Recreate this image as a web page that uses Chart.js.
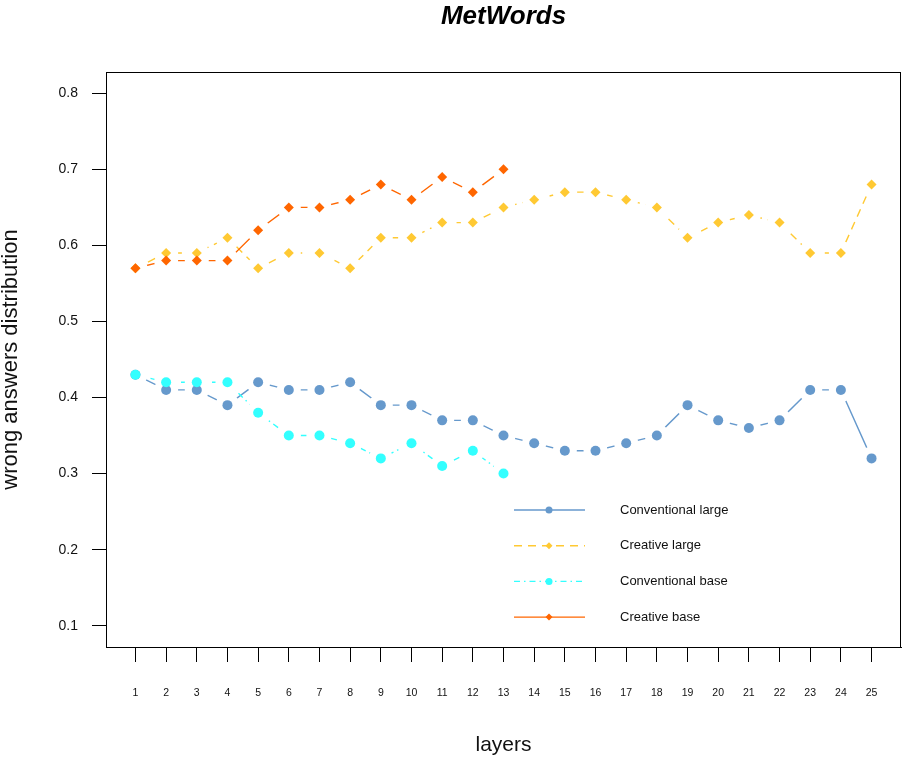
<!DOCTYPE html>
<html>
<head>
<meta charset="utf-8">
<script src="https://cdn.jsdelivr.net/npm/chart.js@4"></script>
<style>
  html, body { margin: 0; padding: 0; background: #fff; }
</style>
</head>
<body>
<canvas id="chart" width="902" height="758"></canvas>
<script>
// values
const layers = [1, 2, 3, 4, 5, 6, 7, 8, 9, 10, 11, 12, 13, 14, 15, 16, 17, 18, 19, 20, 21, 22, 23, 24, 25];
const conventionalLarge = [0.43, 0.41, 0.41, 0.39, 0.42, 0.41, 0.41, 0.42, 0.39, 0.39, 0.37, 0.37, 0.35,
  0.34, 0.33, 0.33, 0.34, 0.35, 0.39, 0.37, 0.36, 0.37, 0.41, 0.41, 0.32];
const creativeLarge = [0.57, 0.59, 0.59, 0.61, 0.57, 0.59, 0.59, 0.57, 0.61, 0.61, 0.63, 0.63, 0.65,
  0.66, 0.67, 0.67, 0.66, 0.65, 0.61, 0.63, 0.64, 0.63, 0.59, 0.59, 0.68];
const conventionalBase = [0.43, 0.42, 0.42, 0.42, 0.38, 0.35, 0.35, 0.34, 0.32, 0.34, 0.31, 0.33, 0.30];
const creativeBase = [0.57, 0.58, 0.58, 0.58, 0.62, 0.65, 0.65, 0.66, 0.68, 0.66, 0.69, 0.67, 0.70];
const yTicks = [0.1, 0.2, 0.3, 0.4, 0.5, 0.6, 0.7, 0.8];

const FONT = '"Liberation Sans", Arial, Helvetica, sans-serif';

const series = [
  {label: 'Conventional large', values: conventionalLarge, color: '#6699CC', style: 'circle', radius: 5, dash: []},
  {label: 'Creative large', values: creativeLarge, color: '#FFC933', style: 'rectRot', radius: 5, dash: [8, 6]},
  {label: 'Conventional base', values: conventionalBase, color: '#33FFFF', style: 'circle', radius: 5, dash: [6, 4, 1.5, 4]},
  {label: 'Creative base', values: creativeBase, color: '#FF6600', style: 'rectRot', radius: 5, dash: []}
];

// R style type="b": one dataset for the broken line, one for the markers
const datasets = [];
series.forEach(function(s, i) {
  const pts = s.values.map(function(v, j) { return {x: layers[j], y: v}; });
  datasets.push({
    label: s.label,
    data: pts,
    borderColor: s.color,
    borderWidth: 1.4,
    borderDash: s.dash,
    pointRadius: 0,
    pointHoverRadius: 0,
    fill: false,
    tension: 0,
    gapRadius: 12,
    order: 8 - i * 2
  });
  datasets.push({
    label: s.label + ' points',
    data: pts,
    showLine: false,
    pointStyle: s.style,
    pointRadius: s.radius,
    pointHoverRadius: s.radius,
    pointBackgroundColor: s.color,
    pointBorderWidth: 0,
    order: 7 - i * 2
  });
});

// cut a hole round every point, like the gaps of R's type = "b"
const gapPlugin = {
  id: 'gaps',
  beforeDatasetDraw: function(chart, args) {
    const ds = chart.data.datasets[args.index];
    if (!ds.gapRadius) return;
    const ctx = chart.ctx;
    ctx.save();
    ctx.beginPath();
    ctx.rect(0, 0, chart.width, chart.height);
    args.meta.data.forEach(function(p) {
      ctx.moveTo(p.x + ds.gapRadius, p.y);
      ctx.arc(p.x, p.y, ds.gapRadius, 0, Math.PI * 2);
    });
    ctx.clip('evenodd');
  },
  afterDatasetDraw: function(chart, args) {
    if (chart.data.datasets[args.index].gapRadius) chart.ctx.restore();
  }
};

// box, title and the legend inside the plot
const decorPlugin = {
  id: 'decor',
  afterDraw: function(chart) {
    const ctx = chart.ctx;
    const a = chart.chartArea;
    ctx.save();
    ctx.strokeStyle = '#000';
    ctx.lineWidth = 1;
    ctx.strokeRect(a.left + 0.5, a.top + 0.5, a.right - a.left - 1, a.bottom - a.top);

    ctx.fillStyle = '#000';
    ctx.font = 'italic bold 26px ' + FONT;
    ctx.textAlign = 'center';
    ctx.textBaseline = 'middle';
    ctx.fillText('MetWords', (a.left + a.right) / 2, 17);

    const x0 = a.left + 408, x1 = a.left + 479, xm = a.left + 443, xt = a.left + 514;
    series.forEach(function(s, i) {
      const y = a.top + 438 + i * 35.7;
      ctx.strokeStyle = s.color;
      ctx.lineWidth = 1.4;
      ctx.setLineDash(s.dash);
      ctx.beginPath();
      ctx.moveTo(x0, y);
      ctx.lineTo(x1, y);
      ctx.stroke();
      ctx.setLineDash([]);
      ctx.fillStyle = s.color;
      ctx.beginPath();
      if (s.style === 'circle') {
        ctx.arc(xm, y, 3.5, 0, Math.PI * 2);
      } else {
        ctx.moveTo(xm - 3.5, y);
        ctx.lineTo(xm, y - 3.5);
        ctx.lineTo(xm + 3.5, y);
        ctx.lineTo(xm, y + 3.5);
        ctx.closePath();
      }
      ctx.fill();
      ctx.fillStyle = '#111';
      ctx.font = '13px ' + FONT;
      ctx.textAlign = 'left';
      ctx.textBaseline = 'middle';
      ctx.fillText(s.label, xt, y);
    });
    ctx.restore();
  }
};

new Chart(document.getElementById('chart').getContext('2d'), {
  type: 'line',
  data: {datasets: datasets},
  plugins: [gapPlugin, decorPlugin],
  options: {
    responsive: false,
    animation: false,
    devicePixelRatio: 1,
    layout: {autoPadding: false, padding: {top: 72, right: 1, left: 0, bottom: 0}},
    plugins: {
      legend: {display: false},
      title: {display: false},
      tooltip: {enabled: false}
    },
    scales: {
      x: {
        type: 'linear',
        min: 0.04,
        max: 25.96,
        afterBuildTicks: function(scale) {
          scale.ticks = layers.map(function(v) { return {value: v}; });
        },
        afterFit: function(scale) {
          scale.height = 111;
          scale.paddingLeft = 0;
          scale.paddingRight = 0;
        },
        grid: {display: true, drawOnChartArea: false, drawTicks: true, tickLength: 15, color: '#000', lineWidth: 1},
        border: {display: true, color: '#000', width: 1},
        ticks: {
          autoSkip: false,
          maxRotation: 0,
          padding: 25,
          color: '#111',
          font: {family: FONT, size: 10.5},
          callback: function(v) { return String(v); }
        },
        title: {
          display: true,
          text: 'layers',
          color: '#111',
          font: {family: FONT, size: 21, lineHeight: 1.2},
          padding: {top: 0, bottom: 0}
        }
      },
      y: {
        type: 'linear',
        min: 0.072,
        max: 0.828,
        afterBuildTicks: function(scale) {
          scale.ticks = yTicks.map(function(v) { return {value: v}; });
        },
        afterFit: function(scale) {
          scale.width = 106;
          scale.paddingTop = 0;
          scale.paddingBottom = 0;
        },
        grid: {display: true, drawOnChartArea: false, drawTicks: true, tickLength: 14, color: '#000', lineWidth: 1},
        border: {display: true, color: '#000', width: 1},
        ticks: {
          padding: 14,
          color: '#111',
          font: {family: FONT, size: 14},
          callback: function(v) { return v.toFixed(1); }
        },
        title: {
          display: true,
          text: 'wrong answers distribution',
          color: '#111',
          font: {family: FONT, size: 22, lineHeight: 0.95},
          padding: {top: 0, bottom: 0}
        }
      }
    }
  }
});
</script>
</body>
</html>
